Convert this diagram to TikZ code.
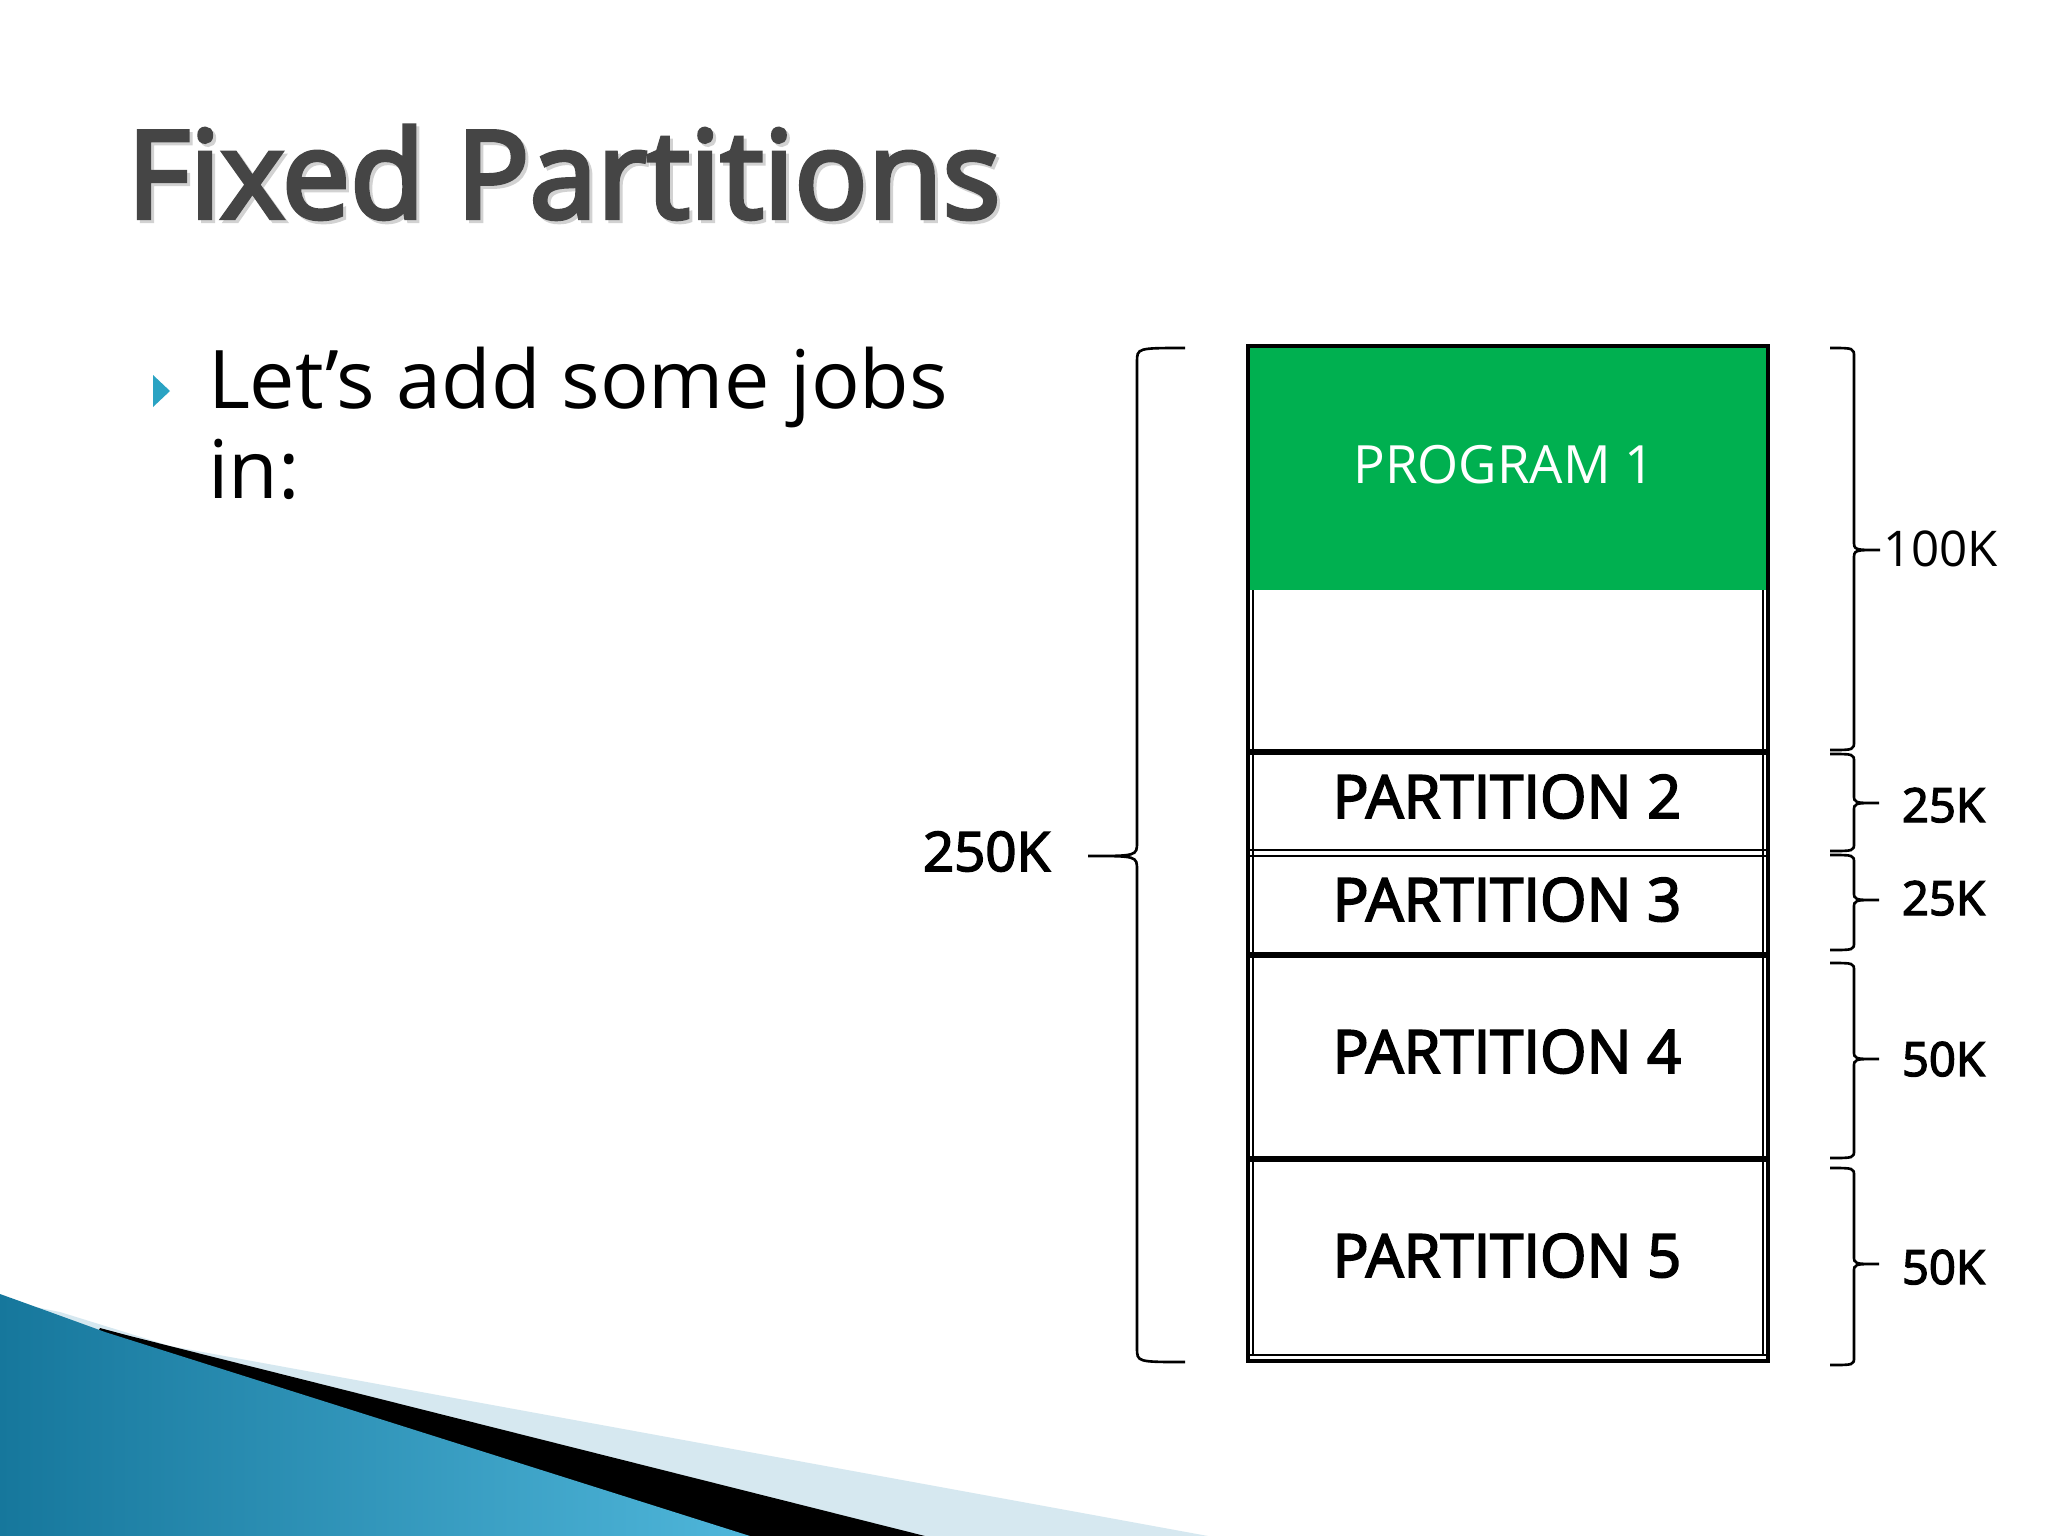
\documentclass[tikz,border=0pt]{standalone}
\usepackage{fontspec}
\setmainfont{Open Sans}
\newfontfamily\semifont[FakeBold=3]{Open Sans}
\newfontfamily\titlefont[FakeBold=3.5]{Open Sans}
\definecolor{titlegray}{HTML}{454545}
\definecolor{progreen}{HTML}{00B050}
\definecolor{bulletblue}{HTML}{2AA3C3}
\definecolor{swooshlight}{HTML}{D6E8F0}
\definecolor{swooshdark}{HTML}{16779C}
\definecolor{swooshmid}{HTML}{4FB6DA}
\newcommand{\bracer}[7]{% hook x, spine x, tip x, top y, tip y, bottom y, radius
  \draw[bracestyle] (#1,#4) .. controls (#2,#4) .. ({#2},{#4+#7})
    -- ({#2},{#5-#7}) .. controls (#2,#5) .. (#3,#5)
    .. controls (#2,#5) .. ({#2},{#5+#7})
    -- ({#2},{#6-#7}) .. controls (#2,#6) .. (#1,#6);}
\begin{document}
\begin{tikzpicture}[x=0.01cm,y=-0.01cm,
  bracestyle/.style={line width=0.75pt, draw=black},
  txt/.style={inner sep=0pt, outer sep=0pt},
  sizelabel/.style={txt, anchor=base west, font=\semifont\fontsize{13.4}{15}\selectfont},
  partlabel/.style={txt, anchor=base, font=\semifont\fontsize{17}{19}\selectfont},
  sep/.style={line width=1.5pt},
  thinsep/.style={line width=0.35pt}]
\useasboundingbox (0,0) rectangle (2048,1536);
\fill[white] (0,0) rectangle (2048,1536);

% bottom-left swoosh
\fill[swooshlight] (60,1312) -- (170,1346) -- (1208,1536) -- (0,1536) -- (0,1300) -- cycle;
\fill[black] (100,1328) -- (130,1336) -- (925,1536) -- (0,1536) -- cycle;
\shade[left color=swooshdark, right color=swooshmid]
  (0,1294) .. controls (50,1312) .. (105,1332) -- (750,1536) -- (0,1536) -- cycle;

% title
\node[txt, anchor=base west, text=gray!35, font=\titlefont\fontsize{34.6}{39}\selectfont] (titleshadow) at (130,221) {Fixed Partitions};
\node[txt, anchor=base west, text=titlegray, font=\titlefont\fontsize{34.6}{39}\selectfont] (title) at (127,218) {Fixed Partitions};

% bullet text
\fill[bulletblue] (153,375) -- (170,391) -- (153,407) -- cycle;
\node[txt, anchor=base west, font=\fontsize{23}{26}\selectfont] (line1) at (208,408) {Let’s add some jobs};
\node[txt, anchor=base west, font=\fontsize{23}{26}\selectfont] (line2) at (208,498) {in:};

% memory box
\fill[progreen] (1248,346) rectangle (1768,590);
\draw[thinsep] (1253,590) -- (1253,1356);
\draw[thinsep] (1763,590) -- (1763,1356);
\draw[sep] (1248,752) -- (1768,752);
\draw[thinsep] (1248,850) -- (1768,850);
\draw[thinsep] (1248,856) -- (1768,856);
\draw[sep] (1248,955) -- (1768,955);
\draw[sep] (1248,1159) -- (1768,1159);
\draw[thinsep] (1248,1355) -- (1768,1355);
\draw[line width=1.1pt] (1248,346) rectangle (1768,1361);

\node[txt, anchor=base, text=white, font=\fontsize{15}{17}\selectfont] (prog1) at (1504,483) {PROGRAM 1};
\node[partlabel] (part2) at (1507,818) {PARTITION 2};
\node[partlabel] (part3) at (1507,921) {PARTITION 3};
\node[partlabel] (part4) at (1507,1073) {PARTITION 4};
\node[partlabel] (part5) at (1507,1277) {PARTITION 5};

% right braces and labels
\bracer{1830}{1854}{1880}{348}{550}{750}{9}
\node[txt, anchor=base west, font=\fontsize{14}{16}\selectfont] (k100) at (1883,566) {100K};
\bracer{1830}{1854}{1879}{754}{803}{851}{8}
\node[sizelabel] (k25a) at (1902,822) {25K};
\bracer{1830}{1854}{1879}{855}{900}{950}{8}
\node[sizelabel] (k25b) at (1902,915) {25K};
\bracer{1830}{1854}{1879}{963}{1059}{1158}{8}
\node[sizelabel] (k50a) at (1902,1076) {50K};
\bracer{1830}{1854}{1879}{1168}{1264}{1365}{8}
\node[sizelabel] (k50b) at (1902,1284) {50K};

% left brace
\bracer{1185}{1137}{1088}{348}{856}{1362}{14}
\node[txt, anchor=base west, font=\semifont\fontsize{15.5}{18}\selectfont] (k250) at (923,871) {250K};
\end{tikzpicture}
\end{document}
